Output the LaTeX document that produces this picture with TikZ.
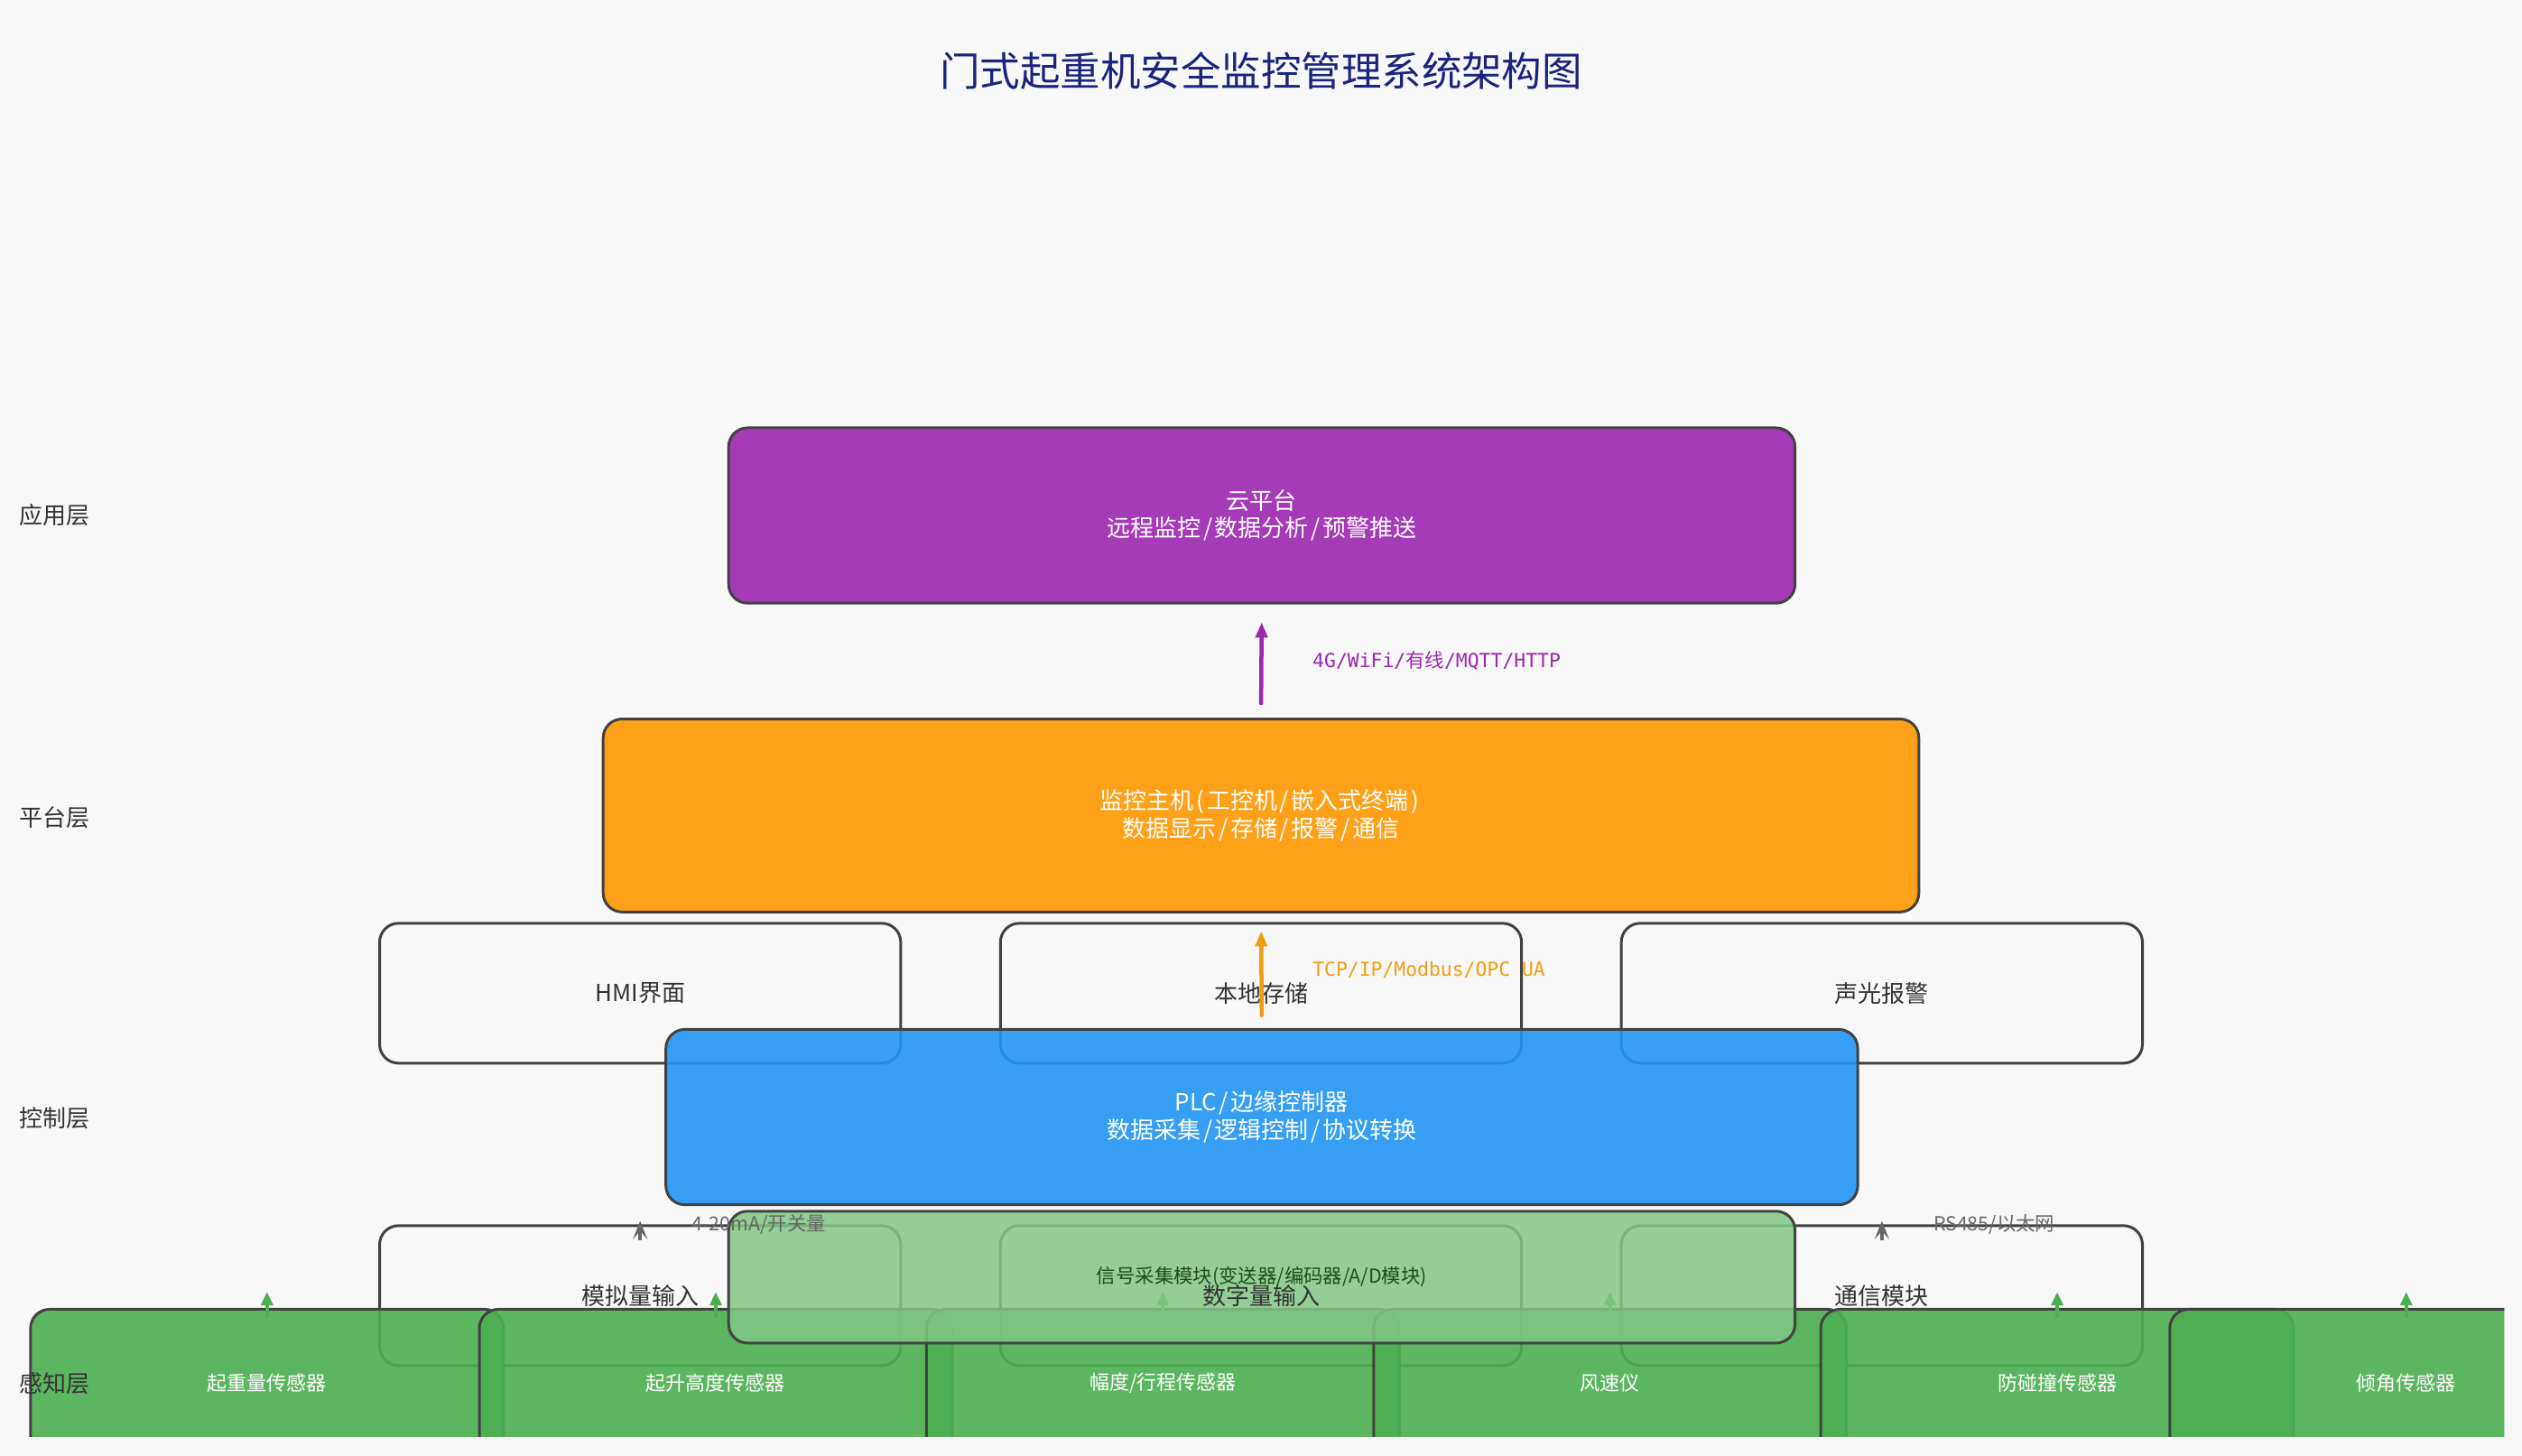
\documentclass[tikz,border=0pt]{standalone}
\usepackage{fontspec}
\setmainfont{Noto Sans CJK SC}
\newfontfamily\monofont{DejaVu Sans Mono}
\usetikzlibrary{arrows.meta}
\definecolor{bgc}{HTML}{F8F8F8}
\definecolor{bord}{HTML}{424242}
\definecolor{txt}{HTML}{333333}
\definecolor{titlec}{HTML}{1A237E}
\definecolor{cpurple}{HTML}{9C27B0}
\definecolor{corange}{HTML}{FF9800}
\definecolor{arrorange}{HTML}{F39C12}
\definecolor{cblue}{HTML}{2196F3}
\definecolor{cgreen}{HTML}{4CAF50}
\definecolor{lgreen}{HTML}{81C784}
\definecolor{sigtxt}{HTML}{1E4D22}
\definecolor{graya}{HTML}{666666}
\newcommand\fT{\fontsize{44.5pt}{50pt}\selectfont}
\newcommand\fL{\fontsize{26pt}{30pt}\selectfont}
\newcommand\fB{\fontsize{26pt}{30.3pt}\selectfont}
\newcommand\fSen{\fontsize{22pt}{26pt}\selectfont}
\newcommand\fS{\fontsize{21.4pt}{25pt}\selectfont}
\newcommand\sll{\makebox[0.6em]{/}}
\newcommand\lpar{\makebox[0.55em]{(}}
\newcommand\rpar{\makebox[0.55em]{)}}
\begin{document}
\begin{tikzpicture}[x=1.782pt,y=-1.782pt,
  box/.style={draw=bord, line width=3pt, rounded corners=21pt, inner sep=0pt, align=center, text opacity=1},
  sz/.style 2 args={minimum width=#1*1.782pt, minimum height=#2*1.782pt},
  wbox/.style={box, fill=bgc, text=txt, font=\fB, sz={324}{87}},
  sensor/.style={box, fill=cgreen, fill opacity=0.9, text=white, font=\fSen, sz={294}{92}},
  parr/.style={draw=cpurple, line width=4.5pt, line cap=round, -{Triangle[length=17pt,width=13pt]}},
  oarr/.style={draw=arrorange, line width=4.5pt, line cap=round, -{Triangle[length=17pt,width=13pt]}},
  garr/.style={draw=cgreen, line width=4pt, line cap=round, -{Triangle[length=15pt,width=13pt]}},
  grarr/.style={draw=graya, line width=4pt, -{Stealth[length=20pt,width=16pt,inset=9pt]}},
  layer/.style={anchor=west, text=txt, font=\fL, inner sep=0pt},
  lbl/.style={anchor=west, font=\fS, inner sep=0pt}]
\fill[bgc] (0,0) rectangle (1568,905);
\useasboundingbox (0,0) rectangle (1568,905);

% title
\node[text=titlec, font=\fT, inner sep=0pt] (title) at (784,44) {门式起重机安全监控管理系统架构图};

% application layer
\node[box, sz={663}{109}, fill=cpurple, fill opacity=0.9, text=white, font=\fB] (cloud) at (784.5,320.5) {云平台\\远程监控\sll 数据分析\sll 预警推送};

% platform layer
\node[box, sz={818}{120}, fill=corange, fill opacity=0.9, text=white, font=\fB] (host) at (784,507) {监控主机\lpar 工控机\sll 嵌入式终端\rpar\\数据显示\sll 存储\sll 报警\sll 通信};

\node[wbox] (hmi) at (398,617.5) {HMI界面};
\node[wbox] (store) at (784,617.5) {本地存储};
\node[wbox] (alarm) at (1170,617.5) {声光报警};

% control layer
\node[box, sz={741}{109}, fill=cblue, fill opacity=0.9, text=white, font=\fB] (plc) at (784.5,694.5) {PLC\sll 边缘控制器\\数据采集\sll 逻辑控制\sll 协议转换};

\draw[parr, shorten <=16pt, shorten >=19.6pt] (host.north) -- (cloud.south);
\draw[oarr, shorten <=14.3pt, shorten >=19.6pt] (plc.north) -- (host.south);

% interface boxes
\node[wbox] (ana) at (398,805.5) {};
\node[wbox] (dig) at (784,805.5) {};
\node[wbox] (com) at (1170,805.5) {};

\draw[grarr] ([yshift=-17.8pt]ana.north) -- ([yshift=3.6pt]ana.north);
\draw[grarr] ([yshift=-17.8pt]com.north) -- ([yshift=3.6pt]com.north);

% sensors
\begin{scope}
\clip (0,0) rectangle (1557,893);
\node[sensor] (s1) at (166,860) {起重量传感器};
\node[sensor] (s2) at (445,860) {起升高度传感器};
\node[sensor] (s3) at (723,860) {幅度/行程传感器};
\node[sensor] (s4) at (1001,860) {风速仪};
\node[sensor] (s5) at (1279,860) {防碰撞传感器};
\node[sensor] (s6) at (1496,860) {倾角传感器};
\end{scope}

\foreach \s in {s1,s2,s3,s4,s5,s6}
  \draw[garr] ([yshift=-8.9pt]\s.north) -- ([yshift=17.8pt]\s.north);

% signal acquisition module
\node[box, sz={663}{82}, fill=lgreen, fill opacity=0.85, text=sigtxt, font=\fS] (sig) at (784.5,794) {信号采集模块(变送器/编码器/A/D模块)};

% interface box texts
\node[text=txt, font=\fB, inner sep=0pt] (anat) at (ana.center) {模拟量输入};
\node[text=txt, font=\fB, inner sep=0pt] (digt) at (dig.center) {数字量输入};
\node[text=txt, font=\fB, inner sep=0pt] (comt) at (com.center) {通信模块};

% connector labels
\node[lbl, text=cpurple] (l1) at (816,411) {\monofont 4G/WiFi/{\normalfont 有线}/MQTT/HTTP};
\node[lbl, text=arrorange] (l2) at (816,603) {\monofont TCP/IP/Modbus/OPC UA};
\node[lbl, text=graya] (l3) at (430,761) {4-20mA/开关量};
\node[lbl, text=graya] (l4) at (1202,761) {RS485/以太网};

% layer labels
\node[layer] (la) at (12,320) {应用层};
\node[layer] (lp) at (12,508) {平台层};
\node[layer] (lc) at (12,695) {控制层};
\node[layer] (ls) at (12,860) {感知层};
\end{tikzpicture}
\end{document}
